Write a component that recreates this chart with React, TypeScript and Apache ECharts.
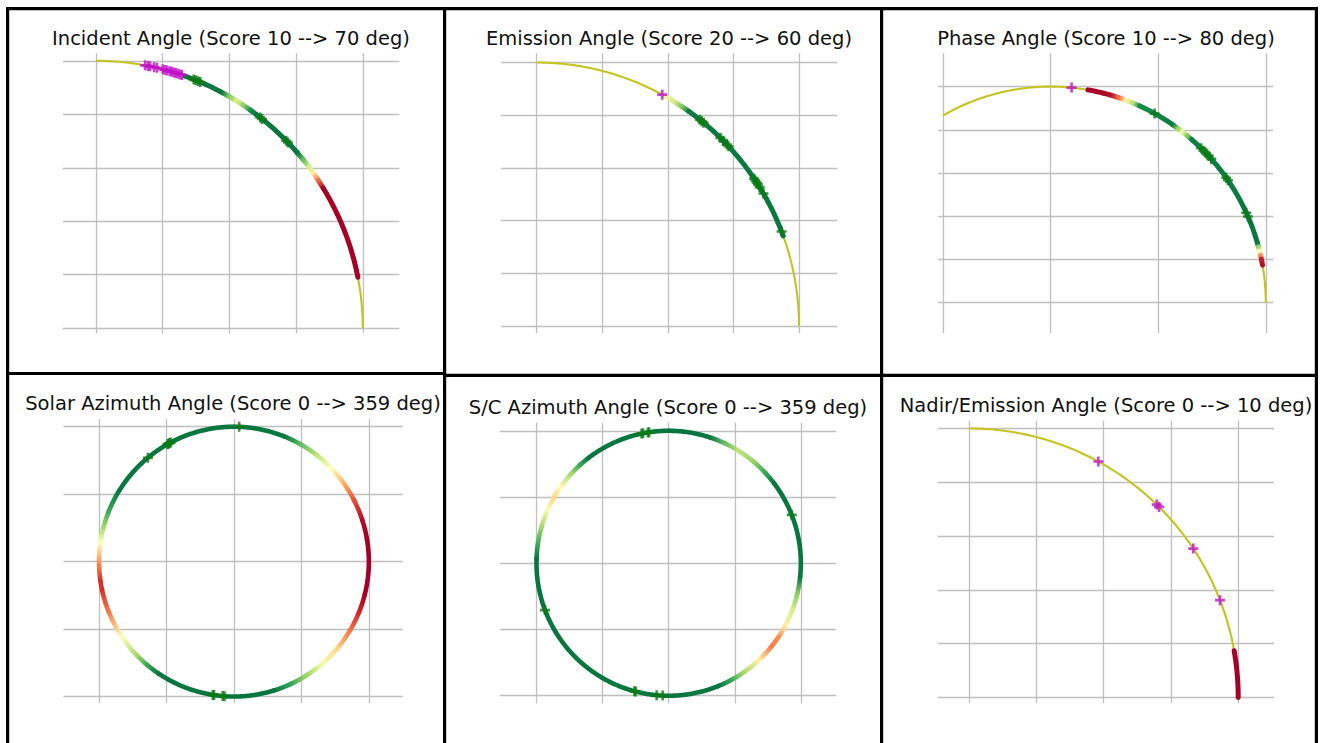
import React, { useEffect, useRef } from 'react';
import * as echarts from 'echarts';

// ---------- colour map (RdYlGn) ----------
const RDYLGN = ['#a50026', '#d73027', '#f46d43', '#fdae61', '#fee08b', '#ffffbf', '#d9ef8b', '#a6d96a', '#66bd63', '#1a9850', '#006837'];

// ---------- titles ----------
const titles = [
  'Incident Angle (Score 10 --> 70 deg)',
  'Emission Angle (Score 20 --> 60 deg)',
  'Phase Angle (Score 10 --> 80 deg)',
  'Solar Azimuth Angle (Score 0 --> 359 deg)',
  'S/C Azimuth Angle (Score 0 --> 359 deg)',
  'Nadir/Emission Angle (Score 0 --> 10 deg)',
];

// ---------- grid tick values ----------
const quarterXTicks = [0, 0.25, 0.5, 0.75, 1];
const unitYTicks = [0, 0.2, 0.4, 0.6, 0.8, 1];
const phaseXTicks = [-0.5, 0, 0.5, 1];
const circleTicks = [-1, -0.5, 0, 0.5, 1];

// ---------- Incident angle ----------
const incidentArc = [0, 90];
const incidentScoreAngles = [19.5, 28, 30, 31.8, 33.5, 35.5, 37, 49, 51, 53, 54.5, 56.5, 58.5, 79];
const incidentScores = [0.97, 0.97, 0.75, 0.6, 0.72, 0.92, 0.97, 0.97, 0.8, 0.6, 0.45, 0.2, 0.0, 0.0];
const incidentGreen = [21.5, 22, 22.5, 23, 38, 38.5, 45.5, 46];
const incidentMagenta = [10.6, 11.2, 11.7, 12.6, 13.2, 14.5, 15, 15.5, 16.1, 16.5, 17, 17.4, 17.9, 18.4, 18.8];

// ---------- Emission angle ----------
const emissionArc = [0, 90];
const emissionScoreAngles = [29.5, 31.5, 33.5, 35.5, 70];
const emissionScores = [0.55, 0.6, 0.75, 0.96, 0.97];
const emissionGreen = [38.5, 39, 39.5, 44.5, 45.3, 46.5, 47, 56, 56.5, 57, 57.5, 58.2, 59.8, 69];
const emissionMagenta = [28.6];

// ---------- Phase angle ----------
const phaseArc = [-30, 90];
const phaseScoreAngles = [10, 16, 18.5, 20.5, 22.5, 24.5, 34.5, 36.5, 37.8, 39.5, 41, 74, 75.2, 76.3, 77.5, 78.5, 80];
const phaseScores = [0.0, 0.02, 0.2, 0.45, 0.65, 0.92, 0.96, 0.7, 0.55, 0.75, 0.95, 0.97, 0.7, 0.5, 0.25, 0.06, 0.03];
const phaseGreen = [28.9, 44.4, 45.3, 46.3, 47.3, 48.3, 54.7, 55.5, 65.4, 66.5];
const phaseMagenta = [5.6];

// ---------- Solar azimuth ----------
const solarScoreAngles = [0, 22, 30, 38, 46, 55, 63, 72, 80, 104, 112, 120, 130, 139, 147, 155, 163, 214, 220, 226, 236, 248, 258, 262, 268, 278, 285, 292, 302, 360];
const solarScores = [0.97, 0.97, 0.8, 0.65, 0.5, 0.3, 0.15, 0.03, 0.0, 0.0, 0.08, 0.2, 0.38, 0.52, 0.7, 0.86, 0.97, 0.97, 0.86, 0.7, 0.5, 0.22, 0.1, 0.1, 0.22, 0.5, 0.7, 0.86, 0.97, 0.97];
const solarGreen = [2.2, 320.4, 330.5, 331, 331.5, 332, 184, 184.8, 188.5, 189];

// ---------- S/C azimuth ----------
const scScoreAngles = [0, 18, 25, 32, 40, 47, 53, 96, 103, 111, 118, 124, 129, 137, 145, 152, 158, 272, 278, 286, 294, 300, 305, 312, 318, 323, 360];
const scScores = [0.97, 0.97, 0.8, 0.65, 0.72, 0.86, 0.97, 0.97, 0.75, 0.6, 0.45, 0.25, 0.22, 0.45, 0.68, 0.86, 0.97, 0.97, 0.86, 0.7, 0.52, 0.38, 0.48, 0.68, 0.86, 0.97, 0.97];
const scGreen = [348.2, 348.8, 351, 351.5, 68.6, 249.3, 194.5, 195, 185.2, 182.6];

// ---------- Nadir / emission ----------
const nadirArc = [0, 90];
const nadirScoreAngles = [80, 90];
const nadirScores = [0.0, 0.0];
const nadirMagenta = [28.7, 44.2, 44.9, 56.4, 68.8];

const PLUS = 'path://M3.7,0L6.3,0L6.3,3.7L10,3.7L10,6.3L6.3,6.3L6.3,10L3.7,10L3.7,6.3L0,6.3L0,3.7L3.7,3.7Z';
const FONT = "'DejaVu Sans', sans-serif";

function scoreColor(s: number): string {
  const v = Math.max(0, Math.min(1, s));
  const c: any = (echarts as any).color;
  if (c && c.lerp) return c.lerp(v, RDYLGN);
  const idx = v * (RDYLGN.length - 1);
  return RDYLGN[Math.round(idx)];
}

function toXY(a: number): number[] {
  const r = (a * Math.PI) / 180;
  return [Math.sin(r), Math.cos(r)];
}

function arcPoints(api: any, a0: number, a1: number): number[][] {
  const n = Math.max(2, Math.ceil(Math.abs(a1 - a0) / 0.5) + 1);
  const pts: number[][] = [];
  for (let k = 0; k < n; k++) {
    pts.push(api.coord(toXY(a0 + ((a1 - a0) * k) / (n - 1))));
  }
  return pts;
}

const panels = [
  { title: titles[0], cx: 231, ty: 28.5, grid: { left: 62.7, top: 53.3, width: 336.6, height: 280 }, xr: [-0.125, 1.137], yr: [-0.019, 1.028], xTicks: quarterXTicks, yTicks: unitYTicks, arc: incidentArc, sA: incidentScoreAngles, sV: incidentScores, green: incidentGreen, magenta: incidentMagenta, thick: 5 },
  { title: titles[1], cx: 669, ty: 28, grid: { left: 501, top: 53.3, width: 336.3, height: 280 }, xr: [-0.136, 1.146], yr: [-0.028, 1.035], xTicks: quarterXTicks, yTicks: unitYTicks, arc: emissionArc, sA: emissionScoreAngles, sV: emissionScores, green: emissionGreen, magenta: emissionMagenta, thick: 5 },
  { title: titles[2], cx: 1106, ty: 28, grid: { left: 938.3, top: 53.3, width: 335, height: 280 }, xr: [-0.522, 1.035], yr: [-0.142, 1.154], xTicks: phaseXTicks, yTicks: unitYTicks, arc: phaseArc, sA: phaseScoreAngles, sV: phaseScores, green: phaseGreen, magenta: phaseMagenta, thick: 5 },
  { title: titles[3], cx: 233, ty: 393.7, grid: { left: 63.3, top: 419.3, width: 339.4, height: 284 }, xr: [-1.265, 1.251], yr: [-1.05, 1.055], xTicks: circleTicks, yTicks: circleTicks, arc: null, sA: solarScoreAngles, sV: solarScores, green: solarGreen, magenta: [], thick: 4.6 },
  { title: titles[4], cx: 668, ty: 397, grid: { left: 500, top: 422.7, width: 336, height: 280.6 }, xr: [-1.276, 1.266], yr: [-1.057, 1.061], xTicks: circleTicks, yTicks: circleTicks, arc: null, sA: scScoreAngles, sV: scScores, green: scGreen, magenta: [], thick: 4.6 },
  { title: titles[5], cx: 1106, ty: 395, grid: { left: 937.7, top: 420.7, width: 336.3, height: 282.6 }, xr: [-0.117, 1.133], yr: [-0.022, 1.029], xTicks: quarterXTicks, yTicks: unitYTicks, arc: nadirArc, sA: nadirScoreAngles, sV: nadirScores, green: [], magenta: nadirMagenta, thick: 5 },
];

function buildOption(): any {
  const grid: any[] = [];
  const xAxis: any[] = [];
  const yAxis: any[] = [];
  const series: any[] = [];
  const title: any[] = [];
  const split = { show: true, lineStyle: { color: '#bfbfbf', width: 1.3 } };

  panels.forEach((p, i) => {
    grid.push({ ...p.grid, containLabel: false });
    xAxis.push({
      gridIndex: i, type: 'value', min: p.xr[0], max: p.xr[1],
      axisLine: { show: false }, axisLabel: { show: false },
      axisTick: { show: false, customValues: p.xTicks },
      splitLine: { ...split, customValues: p.xTicks },
    });
    yAxis.push({
      gridIndex: i, type: 'value', min: p.yr[0], max: p.yr[1],
      axisLine: { show: false }, axisLabel: { show: false },
      axisTick: { show: false, customValues: p.yTicks },
      splitLine: { ...split, customValues: p.yTicks },
    });
    title.push({
      text: p.title, left: p.cx, top: p.ty, textAlign: 'center', padding: 0,
      textStyle: { fontFamily: FONT, fontSize: 19.5, fontWeight: 'normal', color: '#111' },
    });

    if (p.arc) {
      const arc = p.arc;
      series.push({
        type: 'custom', xAxisIndex: i, yAxisIndex: i, z: 2, silent: true,
        data: [[arc[0], arc[1]]],
        renderItem: (params: any, api: any) => ({
          type: 'polyline',
          shape: { points: arcPoints(api, api.value(0), api.value(1)) },
          style: { fill: null, stroke: '#c4c420', lineWidth: 2.1 },
        }),
      });
    }

    const sA = p.sA;
    const sV = p.sV;
    const thick = p.thick;
    series.push({
      type: 'custom', xAxisIndex: i, yAxisIndex: i, z: 3, silent: true,
      data: sA.map((a, k) => [a, sV[k]]),
      renderItem: (params: any, api: any) => {
        const k = params.dataIndex;
        if (k >= sA.length - 1) return null;
        const a0 = api.value(0);
        const a1 = sA[k + 1];
        const pts = arcPoints(api, a0, a1);
        const p0 = pts[0];
        const p1 = pts[pts.length - 1];
        const c0 = scoreColor(api.value(1));
        const c1 = scoreColor(sV[k + 1]);
        const grad = new echarts.graphic.LinearGradient(p0[0], p0[1], p1[0] + 0.01, p1[1] + 0.01, [
          { offset: 0, color: c0 }, { offset: 1, color: c1 },
        ], true);
        return {
          type: 'polyline',
          shape: { points: pts },
          style: { fill: null, stroke: grad, lineWidth: thick, lineCap: 'round', lineJoin: 'round' },
        };
      },
    });

    if (p.green.length) {
      series.push({
        type: 'scatter', xAxisIndex: i, yAxisIndex: i, z: 4, silent: true,
        symbol: PLUS, symbolSize: 10,
        itemStyle: { color: '#0a7a14' },
        data: p.green.map(toXY),
      });
    }
    if (p.magenta.length) {
      series.push({
        type: 'scatter', xAxisIndex: i, yAxisIndex: i, z: 4, silent: true,
        symbol: PLUS, symbolSize: 10,
        itemStyle: { color: '#c010c8' },
        data: p.magenta.map(toXY),
      });
    }
  });

  const bw = 3.2;
  const border = (x1: number, y1: number, x2: number, y2: number) => ({
    type: 'line', z: 100, silent: true,
    shape: { x1, y1, x2, y2 },
    style: { stroke: '#000', lineWidth: bw },
  });

  return {
    animation: false,
    backgroundColor: '#ffffff',
    title,
    grid, xAxis, yAxis, series,
    graphic: {
      elements: [
        border(6, 8.7, 1318, 8.7),
        border(6, 373.5, 445, 373.5),
        border(445, 375.3, 1318, 375.3),
        border(7.6, 7, 7.6, 743),
        border(444.6, 7, 444.6, 743),
        border(881.6, 7, 881.6, 743),
        border(1316.4, 7, 1316.4, 743),
      ],
    },
  };
}

export default function App() {
  const ref = useRef<HTMLDivElement>(null);
  useEffect(() => {
    if (!ref.current) return;
    const chart = echarts.init(ref.current, null, { renderer: 'svg' });
    chart.setOption(buildOption());
    return () => chart.dispose();
  }, []);
  return (
    <div
      ref={ref}
      style={{ position: 'fixed', left: 0, top: 0, width: 1322, height: 743, background: '#fff' }}
    />
  );
}
